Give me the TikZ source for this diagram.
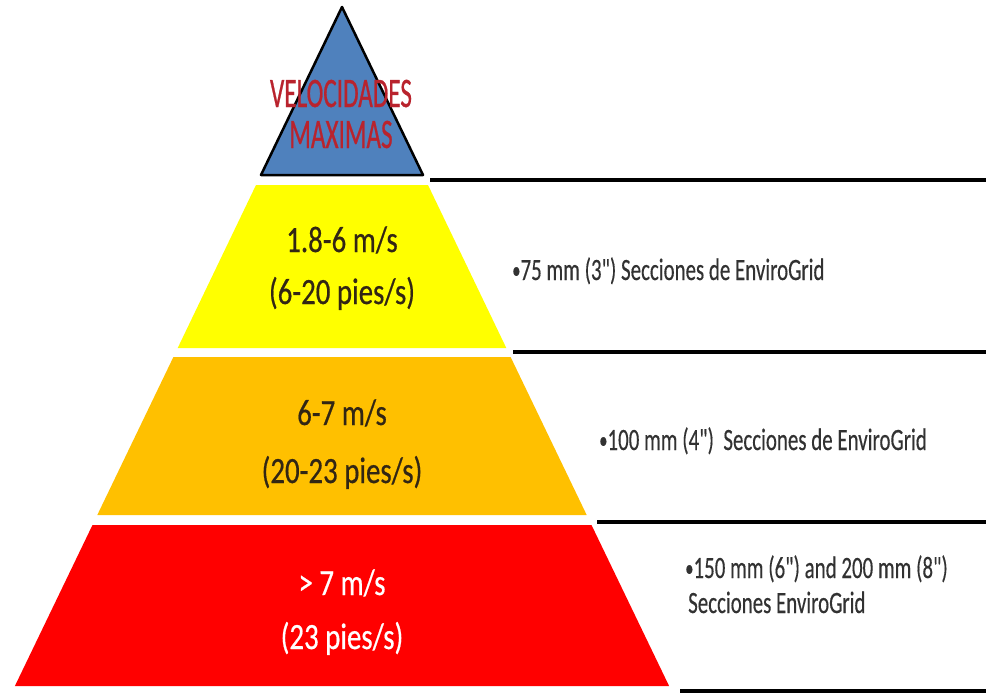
\documentclass[tikz,border=0pt]{standalone}
\usepackage{fontspec}
\setmainfont{Carlito}[Ligatures=TeXOff]
\definecolor{pblue}{RGB}{79,129,189}
\definecolor{pyellow}{RGB}{255,255,0}
\definecolor{porange}{RGB}{255,192,0}
\definecolor{pred}{RGB}{255,0,0}
\definecolor{ptitle}{RGB}{185,35,45}
\definecolor{pdark}{RGB}{50,38,20}
\definecolor{ptext}{RGB}{50,50,50}
\newcommand{\sqa}[1]{\scalebox{0.6}[1]{#1}}
\newcommand{\sqb}[1]{\scalebox{0.78}[1]{#1}}
\newcommand{\sqc}[1]{\scalebox{0.675}[1]{#1}}
\newcommand{\bul}{\raisebox{1.5pt}{\scalebox{0.8}{•}}}
\tikzset{
  titletext/.style={inner sep=0, anchor=base, text=ptitle, font=\fontsize{42}{46}\selectfont\addfontfeature{FakeBold=0.8}},
  bandtext/.style={inner sep=0, anchor=base, text=pdark, font=\fontsize{37}{40}\selectfont\addfontfeature{FakeBold=0.6}},
  redtext/.style={bandtext, text=white},
  sidetext/.style={inner sep=0, anchor=base west, text=ptext, font=\fontsize{31}{34}\selectfont\addfontfeature{FakeBold=0.4}},
  rule/.style={line width=4pt, black}
}
\begin{document}
\begin{tikzpicture}[x=1pt, y=-1pt]
\useasboundingbox (0,0) rectangle (986,693);
\fill[white] (0,0) rectangle (986,693);
% pyramid bands (centre x = 342, half-width = 0.4817*(y-7))
\filldraw[fill=pblue, draw=black, line width=2.5pt, line join=round]
  (342,7) -- (423,175) -- (261,175) -- cycle;
\fill[pyellow] (256.0,185) -- (428.0,185) -- (506.3,348) -- (177.7,348) -- cycle;
\fill[porange] (173.4,357) -- (510.6,357) -- (586.7,515) -- (97.3,515) -- cycle;
\fill[pred] (92.5,525) -- (591.5,525) -- (669.1,686) -- (14.9,686) -- cycle;
% right rules
\coordinate (r1a) at (430,180); \coordinate (r1b) at (986,180);
\coordinate (r2a) at (513,352); \coordinate (r2b) at (986,352);
\coordinate (r3a) at (597,522); \coordinate (r3b) at (986,522);
\coordinate (r4a) at (680,691); \coordinate (r4b) at (986,691);
\draw[rule] (r1a) -- (r1b);
\draw[rule] (r2a) -- (r2b);
\draw[rule] (r3a) -- (r3b);
\draw[rule] (r4a) -- (r4b);
% title
\node[titletext] (t1) at (341,107) {\sqa{VELOCIDADES}};
\node[titletext] (t2) at (341,148) {\sqa{MAXIMAS}};
% band labels
\node[bandtext] (y1) at (342,252) {\sqb{1.8-6 m/s}};
\node[bandtext] (y2) at (342,304) {\sqb{(6-20 pies/s)}};
\node[bandtext] (o1) at (342,425) {\sqb{6-7 m/s}};
\node[bandtext] (o2) at (342,483) {\sqb{(20-23 pies/s)}};
\node[redtext] (d1) at (342,595) {\sqb{> 7 m/s}};
\node[redtext] (d2) at (342,649) {\sqb{(23 pies/s)}};
% side texts
\node[sidetext] (s1) at (512,280) {\sqc{\bul75 mm (3") Secciones de EnviroGrid}};
\node[sidetext] (s2) at (599,450) {\sqc{\bul100 mm (4")\ \ Secciones de EnviroGrid}};
\node[sidetext] (s3) at (685,578) {\sqc{\bul150 mm (6") and 200 mm (8")}};
\node[sidetext] (s4) at (688,613) {\sqc{Secciones EnviroGrid}};
\end{tikzpicture}
\end{document}
